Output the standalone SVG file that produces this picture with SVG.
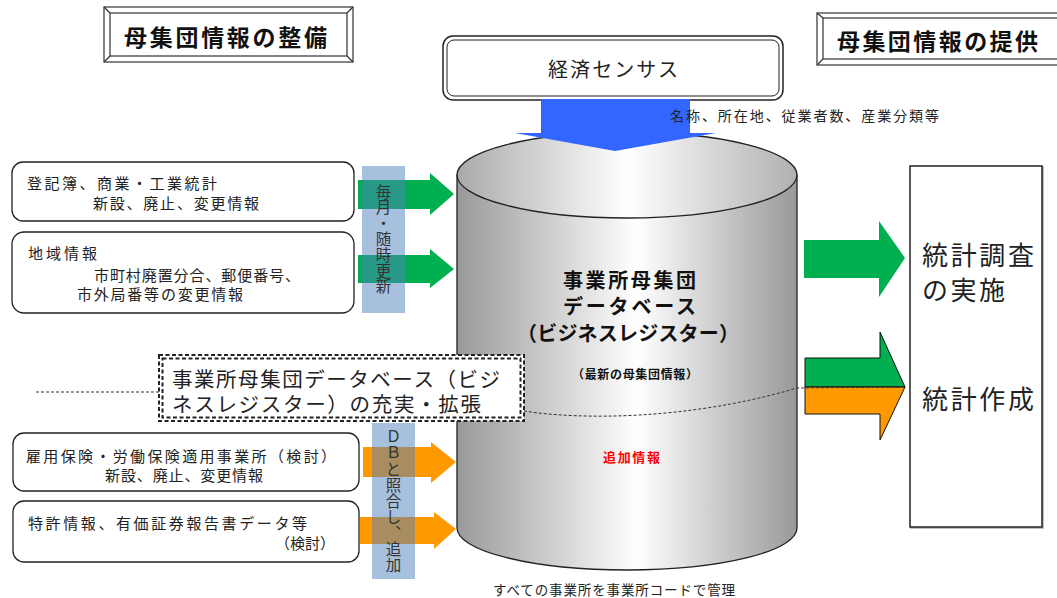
<svg xmlns="http://www.w3.org/2000/svg" width="1057" height="598" viewBox="0 0 1057 598">
<defs>
<linearGradient id="gSide" gradientUnits="userSpaceOnUse" x1="457" y1="0" x2="797" y2="0">
<stop offset="0" stop-color="#999999"/>
<stop offset="0.53" stop-color="#ffffff"/>
<stop offset="1" stop-color="#999999"/>
</linearGradient>
<linearGradient id="gTop" gradientUnits="userSpaceOnUse" x1="457" y1="0" x2="797" y2="0">
<stop offset="0" stop-color="#aaaaaa"/>
<stop offset="0.5" stop-color="#ffffff"/>
<stop offset="1" stop-color="#b0b0b0"/>
</linearGradient>
</defs>
<style>
text { font-family: "Noto Sans CJK JP", "Noto Sans", sans-serif; fill: #222; dominant-baseline: central; }
.title { font-size: 23px; font-weight: bold; fill: #111; }
.lbl { font-size: 15px; }
.frame { fill: #fff; stroke: #333; stroke-width: 1.2; }
.bev { stroke: #333; stroke-width: 1.2; fill: none; }
.rbox { fill: #fff; stroke: #222; stroke-width: 1.3; }
.strip { fill: #4F81BD; opacity: 0.5; }
.green { fill: #00B050; }
.orange { fill: #FF9900; }
.vt { font-size: 15.5px; writing-mode: vertical-rl; text-orientation: upright; fill: #333; }
.dot { fill: none; stroke: #333; stroke-width: 1; stroke-dasharray: 3 2; }
.dash { fill: none; stroke: #222; stroke-width: 2; stroke-dasharray: 4 2.5; }
.cb { font-weight: bold; fill: #111; }
</style>

<g id="title-left">
<rect class="frame" x="104" y="7" width="249" height="55"/>
<rect class="bev" x="110" y="13" width="237" height="43"/>
<path class="bev" d="M104,7 L110,13 M353,7 L347,13 M104,62 L110,56 M353,62 L347,56"/>
<text class="title" x="124" y="36" textLength="203">母集団情報の整備</text>
</g>

<g id="title-right">
<rect class="frame" x="817" y="13" width="250" height="52"/>
<rect class="bev" x="823" y="18" width="250" height="41"/>
<path class="bev" d="M817,13 L823,18 M817,65 L823,59"/>
<text class="title" x="837" y="40" textLength="201">母集団情報の提供</text>
</g>

<g id="census">
<rect x="443" y="36" width="340" height="64" rx="10" fill="#fff" stroke="#222" stroke-width="1.5"/>
<rect x="447" y="40" width="332" height="56" rx="7" fill="none" stroke="#222" stroke-width="1"/>
<text x="548" y="68" font-size="20" textLength="130">経済センサス</text>
</g>

<g id="database">
<path d="M457,175 L457,528 A170,42 0 0 0 797,528 L797,175 Z" fill="url(#gSide)" stroke="#222" stroke-width="1.3"/>
<ellipse cx="627" cy="175" rx="170" ry="43" fill="url(#gTop)" stroke="#222" stroke-width="1.3"/>
<text class="cb" x="563" y="279" font-size="20" textLength="133">事業所母集団</text>
<text class="cb" x="563" y="305" font-size="20" textLength="133">データベース</text>
<text class="cb" x="517" y="332" font-size="20" textLength="222">（ビジネスレジスター）</text>
<text class="cb" x="572" y="373" font-size="12" textLength="126">（最新の母集団情報）</text>
<text x="603" y="456" font-size="13" font-weight="bold" style="fill:#ff0000" textLength="57">追加情報</text>
</g>

<g id="box-registry">
<rect class="rbox" x="12" y="162" width="342" height="59" rx="11"/>
<text class="lbl" x="27" y="182" textLength="190">登記簿、商業・工業統計</text>
<text class="lbl" x="93" y="202" textLength="166">新設、廃止、変更情報</text>
</g>

<g id="box-region">
<rect class="rbox" x="12" y="232" width="342" height="81" rx="12"/>
<text class="lbl" x="28" y="252" textLength="69">地域情報</text>
<text class="lbl" x="94" y="274" textLength="206">市町村廃置分合、郵便番号、</text>
<text class="lbl" x="77" y="293" textLength="166">市外局番等の変更情報</text>
</g>

<g id="box-insurance">
<rect class="rbox" x="13" y="433" width="346" height="58" rx="11"/>
<text class="lbl" x="26" y="455" textLength="310">雇用保険・労働保険適用事業所（検討）</text>
<text class="lbl" x="105" y="474" textLength="158">新設、廃止、変更情報</text>
</g>

<g id="box-patent">
<rect class="rbox" x="13" y="501" width="346" height="61" rx="11"/>
<text class="lbl" x="28" y="522" textLength="279">特許情報、有価証券報告書データ等</text>
<text class="lbl" x="275" y="542">（検討）</text>
</g>

<g id="output">
<rect x="911" y="167" width="132" height="361" fill="none" stroke="#aaa" stroke-width="1.5"/>
<rect x="910" y="166" width="132" height="361" fill="#fff" stroke="#222" stroke-width="1.5"/>
<text x="922" y="253" font-size="26" textLength="112">統計調査</text>
<text x="922" y="288" font-size="26" textLength="83">の実施</text>
<text x="922" y="397" font-size="26" textLength="112">統計作成</text>
</g>

<g id="connectors">
<polygon fill="#3366FF" points="541,99 690,99 690,133 716,133 615,151 515,133 541,133"/>
<polygon class="green" points="358,180 430,180 430,173 454,194 430,215 430,209 358,209"/>
<polygon class="green" points="358,255 430,255 430,249 454,269 430,288 430,283 358,283"/>
<polygon class="orange" points="363,447 431,447 431,442 456,462 431,483 431,477 363,477"/>
<polygon class="orange" points="360,517 434,517 434,512 456,529 434,549 434,544 360,544"/>
<polygon class="green" points="804,240 879,240 879,221 905,258 879,297 879,278 804,278"/>
<polygon class="green" stroke="#111" stroke-width="1" points="805,358 880,358 880,332 905,387 805,387"/>
<polygon class="orange" stroke="#111" stroke-width="1" points="805,387 905,387 880,440 880,414 805,414"/>
<path class="dot" d="M36,392 H159"/>
<path class="dot" d="M524,411 C580,420 690,420 797,388 L905,387"/>
</g>

<g id="strip-monthly">
<rect class="strip" x="362" y="166" width="43" height="147"/>
<text class="vt" x="383.5" y="184" letter-spacing="0.3">毎月・随時更新</text>
</g>

<g id="strip-db">
<rect class="strip" x="372" y="423" width="43" height="156"/>
<text class="vt" x="393.5" y="429" letter-spacing="0.5">ＤＢと照合し、追加</text>
</g>

<g id="enhance">
<rect x="159" y="355" width="365" height="66" fill="#fff" stroke="none"/>
<rect class="dash" x="159" y="355" width="365" height="66"/>
<rect class="dash" x="162.5" y="358.5" width="358" height="59" stroke-width="1"/>
<text x="172" y="378" font-size="20.5" textLength="328">事業所母集団データベース（ビジ</text>
<text x="172" y="403" font-size="20.5" textLength="309">ネスレジスター）の充実・拡張</text>
</g>

<g id="names-label">
<text x="670" y="115" font-size="14" textLength="269">名称、所在地、従業者数、産業分類等</text>
</g>
<g id="footer">
<text x="493" y="589" font-size="13.5" textLength="242">すべての事業所を事業所コードで管理</text>
</g>
</svg>
